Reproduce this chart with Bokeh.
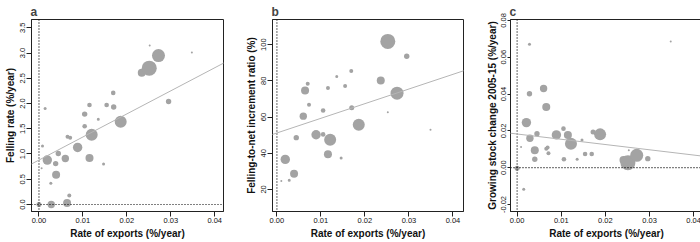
from bokeh.plotting import figure
from bokeh.layouts import row
from bokeh.models import Range1d, FixedTicker, NumeralTickFormatter, Span, Slope
from bokeh.embed import file_html
from bokeh.resources import INLINE

# ---- panel a: felling rate against rate of exports ----
a_export = [0.0000, 0.0028, 0.0064, 0.0069, 0.0027, 0.0039, 0.0006, 0.0019, 0.0038,
            0.0044, 0.0060, 0.0008, 0.0088, 0.0115, 0.0147, 0.0065, 0.0071, 0.0120,
            0.0104, 0.0135, 0.0104, 0.0115, 0.0014, 0.0154, 0.0170, 0.0169, 0.0186,
            0.0295, 0.0234, 0.0251, 0.0272, 0.0252, 0.0348]
a_felling = [0.00, 0.00, 0.03, 0.18, 0.42, 0.59, 0.72, 0.88, 0.81,
             1.01, 0.91, 1.16, 1.13, 0.92, 0.80, 1.34, 1.32, 1.38,
             1.55, 1.69, 1.79, 1.97, 1.90, 1.97, 1.93, 2.21, 1.64,
             2.04, 2.61, 2.70, 2.95, 3.15, 3.01]
a_weight = [2.5, 3.7, 4.0, 2.0, 1.5, 4.0, 1.0, 4.7, 2.7,
            2.7, 3.7, 1.5, 4.7, 4.0, 1.5, 2.0, 2.0, 6.0,
            2.3, 1.5, 2.7, 2.3, 1.5, 2.3, 2.7, 2.3, 6.0,
            2.7, 4.0, 7.5, 6.5, 1.0, 1.0]
a_fit = (0.88, 45.7)  # intercept, slope

# ---- panel b: felling-to-net increment ratio ----
b_export = [0.0010, 0.0028, 0.0039, 0.0019, 0.0044, 0.0060, 0.0064, 0.0070, 0.0073,
            0.0089, 0.0105, 0.0121, 0.0116, 0.0105, 0.0116, 0.0136, 0.0146, 0.0155,
            0.0169, 0.0170, 0.0186, 0.0252, 0.0295, 0.0236, 0.0273, 0.0252, 0.0349]
b_ratio = [24.6, 25.0, 28.7, 36.6, 48.6, 60.5, 74.7, 78.4, 66.8,
           50.2, 50.4, 47.5, 39.5, 63.6, 76.0, 82.4, 37.3, 77.1,
           85.4, 65.1, 55.7, 101.8, 93.6, 80.2, 73.2, 62.7, 53.0]
b_weight = [1.0, 1.5, 4.0, 4.7, 2.7, 3.7, 4.0, 2.0, 2.0,
            4.7, 2.3, 6.0, 4.0, 2.3, 2.0, 1.5, 1.5, 2.0,
            2.0, 2.5, 6.0, 7.5, 2.7, 4.0, 6.5, 1.0, 1.0]
b_fit = (51.2, 810.0)

# ---- panel c: growing stock change 2005-15 ----
c_export = [0.0000, 0.0015, 0.0009, 0.0028, 0.0028, 0.0021, 0.0029, 0.0045, 0.0040,
            0.0040, 0.0060, 0.0066, 0.0066, 0.0071, 0.0069, 0.0089, 0.0105, 0.0106,
            0.0115, 0.0122, 0.0136, 0.0147, 0.0154, 0.0169, 0.0172, 0.0188, 0.0241,
            0.0251, 0.0271, 0.0296, 0.0253, 0.0348]
c_stock = [-0.0003, -0.0117, 0.0113, 0.0670, 0.0402, 0.0245, 0.0160, 0.0185, 0.0095,
           0.0046, 0.0430, 0.0330, 0.0103, 0.0078, 0.0110, 0.0178, 0.0212, 0.0046,
           0.0178, 0.0130, 0.0046, 0.0150, 0.0074, 0.0074, 0.0194, 0.0181, 0.0042,
           0.0027, 0.0067, 0.0049, 0.0095, 0.0685]
c_weight = [2.5, 1.5, 1.0, 1.5, 2.7, 4.7, 3.7, 2.7, 4.0,
            2.7, 3.7, 4.0, 2.0, 2.0, 2.0, 4.7, 2.3, 2.3,
            4.0, 6.0, 1.5, 1.5, 2.3, 2.3, 2.5, 6.0, 4.0,
            7.5, 6.5, 2.7, 1.0, 1.0]
c_fit = (0.0183, -0.286)

x_ticks = [0.00, 0.01, 0.02, 0.03, 0.04]
a_yticks = [0.0, 0.5, 1.0, 1.5, 2.0, 2.5, 3.0, 3.5]
b_yticks = [20, 40, 60, 80, 100]
c_yticks = [-0.02, 0.00, 0.02, 0.04, 0.06, 0.08]

FONT = "Liberation Sans"
POINT = "#a3a3a3"
FIT = "#b5b5b5"


def panel(tag, xs, ys, ws, fit, xr, yr, yticks, yfmt, ylabel, hline,
          left, frame_w, right, tick_out, lab_stand, title_stand):
    p = figure(frame_width=frame_w, frame_height=192,
               x_range=Range1d(*xr), y_range=Range1d(*yr),
               output_backend="svg", toolbar_location=None,
               min_border_left=left, min_border_right=right,
               min_border_top=19, min_border_bottom=31)
    p.title.text = tag
    p.title.text_font = FONT
    p.title.text_font_size = "12px"
    p.title.text_font_style = "bold"
    p.title.align = "left"
    p.title.offset = -1
    p.title.standoff = 1
    p.xgrid.visible = False
    p.ygrid.visible = False
    p.outline_line_color = "#222222"
    p.outline_line_width = 1
    p.background_fill_color = "white"
    p.border_fill_color = "white"

    for ax in (p.xaxis[0], p.yaxis[0]):
        ax.axis_line_color = "#222222"
        ax.major_tick_line_color = "#222222"
        ax.major_tick_in = 0
        ax.minor_tick_line_color = None
        ax.major_label_text_font = FONT
        ax.major_label_text_font_size = "7.5px"
        ax.major_label_text_color = "#111111"
        ax.axis_label_text_font = FONT
        ax.axis_label_text_font_size = "10px"
        ax.axis_label_text_font_style = "bold"
        ax.axis_label_text_color = "#111111"

    xa = p.xaxis[0]
    xa.ticker = FixedTicker(ticks=x_ticks)
    xa.formatter = NumeralTickFormatter(format="0.00")
    xa.major_tick_out = 5
    xa.major_label_standoff = 1
    xa.axis_label = "Rate of exports (%/year)"
    xa.axis_label_standoff = 2

    ya = p.yaxis[0]
    ya.ticker = FixedTicker(ticks=yticks)
    ya.formatter = NumeralTickFormatter(format=yfmt)
    ya.major_label_orientation = "parallel"
    ya.major_tick_out = tick_out
    ya.major_label_standoff = lab_stand
    ya.axis_label = ylabel
    ya.axis_label_standoff = title_stand

    p.add_layout(Span(location=0, dimension="height", line_color="black",
                      line_width=1.2, line_dash="1 2"))
    if hline:
        p.add_layout(Span(location=0, dimension="width", line_color="black",
                          line_width=1.2, line_dash="1 2"))
    p.add_layout(Slope(y_intercept=fit[0], gradient=fit[1],
                       line_color=FIT, line_width=1))
    p.scatter(xs, ys, size=[2 * w for w in ws], fill_color=POINT,
              line_color=None)
    return p


pa = panel("a", a_export, a_felling, a_weight, a_fit,
           (-0.0017, 0.0420), (-0.139, 3.664), a_yticks, "0.0",
           "Felling rate (%/year)", True, 31, 192, 10, 5, 1, 2)
pb = panel("b", b_export, b_ratio, b_weight, b_fit,
           (-0.0010, 0.0424), (7.8, 113.9), b_yticks, "0",
           "Felling-to-net increment ratio (%)", False, 39, 191, 20, 5, 1, 2)
pc = panel("c", c_export, c_stock, c_weight, c_fit,
           (-0.0015, 0.0420), (-0.0238, 0.0805), c_yticks, "0.00",
           "Growing stock change 2005-15 (%/year)", True, 25, 192, 0, 3, 1, 1)

layout = row(pa, pb, pc, spacing=0)
open("out.html", "w").write(file_html(layout, INLINE))
